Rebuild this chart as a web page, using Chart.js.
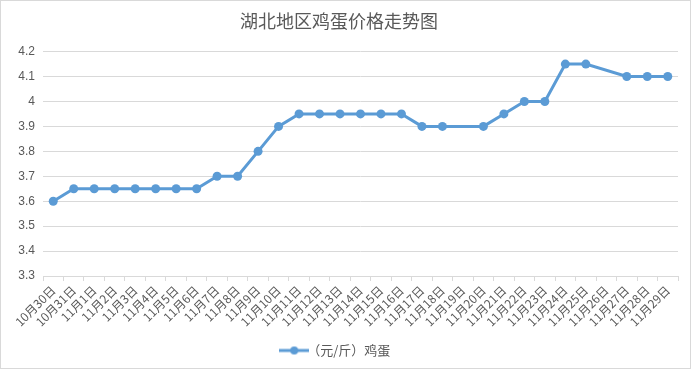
<!DOCTYPE html>
<html><head><meta charset="utf-8">
<script src="https://cdn.jsdelivr.net/npm/chart.js@4"></script>
<style>
html,body{margin:0;padding:0;background:#fff;}
#wrap{position:absolute;left:0;top:0;width:689px;height:367px;border:1px solid #D9D9D9;}
canvas{position:absolute;left:0;top:0;}
</style></head>
<body><div id="wrap"></div><canvas id="c" width="693" height="370"></canvas>
<script>
const titleText = "湖北地区鸡蛋价格走势图";
const seriesName = "（元/斤）鸡蛋";
const categories = ["10月30日","10月31日","11月1日","11月2日","11月3日","11月4日","11月5日","11月6日","11月7日","11月8日","11月9日","11月10日","11月11日","11月12日","11月13日","11月14日","11月15日","11月16日","11月17日","11月18日","11月19日","11月20日","11月21日","11月22日","11月23日","11月24日","11月25日","11月26日","11月27日","11月28日","11月29日"];
const prices = [3.6,3.65,3.65,3.65,3.65,3.65,3.65,3.65,3.7,3.7,3.8,3.9,3.95,3.95,3.95,3.95,3.95,3.95,3.9,3.9,null,3.9,3.95,4.0,4.0,4.15,4.15,null,4.1,4.1,4.1];
const yMin = 3.3, yMax = 4.2, yStep = 0.1;

const lineColor = "#5B9BD5";
const textColor = "#595959";
const gridColor = "#D9D9D9";

// legend icon: line with a dot
const icon = document.createElement('canvas');
icon.width = 30; icon.height = 10;
(function(){
  const g = icon.getContext('2d');
  g.strokeStyle = lineColor; g.lineWidth = 3;
  g.beginPath(); g.moveTo(0,5); g.lineTo(30,5); g.stroke();
  g.fillStyle = lineColor; g.beginPath(); g.arc(15,5,4,0,Math.PI*2); g.fill();
})();

new Chart(document.getElementById('c'), {
  type: 'line',
  data: {
    labels: categories,
    datasets: [{
      label: seriesName,
      data: prices,
      borderColor: lineColor,
      backgroundColor: lineColor,
      borderWidth: 3,
      pointRadius: 4.5,
      pointHoverRadius: 4.5,
      pointBackgroundColor: lineColor,
      pointBorderColor: lineColor,
      pointBorderWidth: 0,
      tension: 0,
      spanGaps: true
    }]
  },
  options: {
    responsive: false,
    animation: false,
    events: [],
    layout: { padding: { left: 0, right: 15, top: 0, bottom: 3 } },
    plugins: {
      title: {
        display: true,
        text: titleText,
        color: textColor,
        font: { size: 18, family: "'Noto Sans CJK SC', sans-serif", weight: 'normal' },
        padding: { top: 10, bottom: 20 }
      },
      legend: {
        position: 'bottom',
        labels: {
          color: textColor,
          font: { size: 13, family: "'Noto Sans CJK SC', sans-serif" },
          usePointStyle: true,
          padding: 10,
          generateLabels: (chart) => [{
            text: seriesName,
            pointStyle: icon,
            fontColor: textColor,
            hidden: false,
            datasetIndex: 0,
            lineWidth: 0
          }]
        }
      },
      tooltip: { enabled: false }
    },
    scales: {
      x: {
        offset: true,
        grid: { offset: true, drawOnChartArea: false, drawTicks: true, tickLength: 5, color: gridColor },
        border: { color: gridColor, width: 1 },
        ticks: {
          color: textColor,
          font: { size: 12, family: "'Noto Sans CJK SC', sans-serif" },
          minRotation: 45, maxRotation: 45,
          autoSkip: false,
          padding: 2
        },
        afterFit: (s) => { s.height = 58; }
      },
      y: {
        min: yMin, max: yMax,
        grid: { color: gridColor, drawTicks: false },
        border: { display: false },
        ticks: {
          stepSize: yStep,
          color: textColor,
          font: { size: 12, family: "'Liberation Sans', sans-serif" },
          padding: 8,
          callback: (v) => String(Number(v.toFixed(1)))
        },
        afterFit: (s) => { s.width = 43; }
      }
    }
  }
});
</script>
</body></html>
